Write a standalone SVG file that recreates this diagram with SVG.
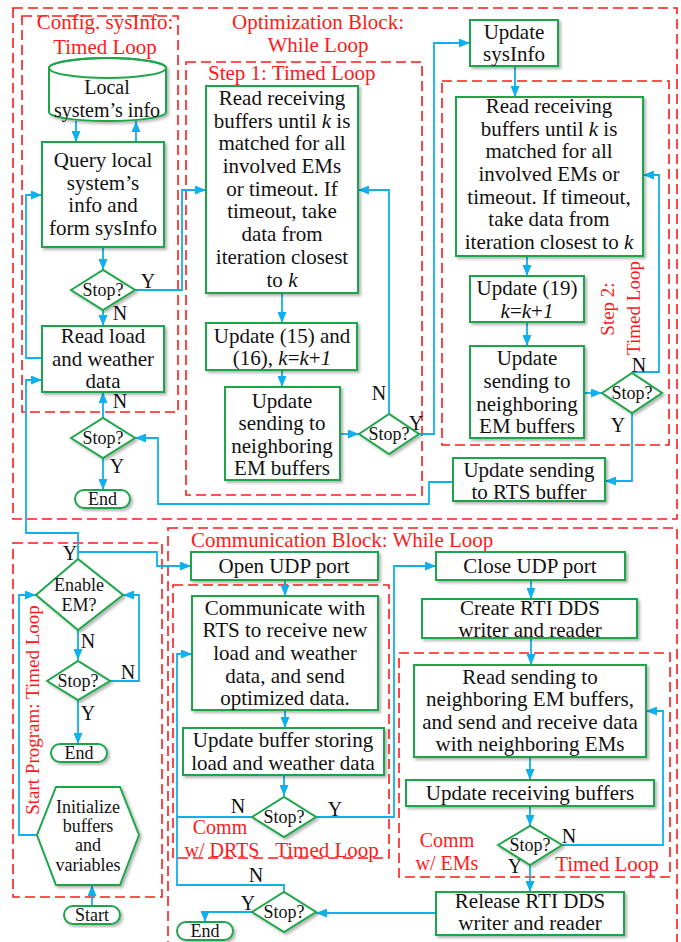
<svg xmlns="http://www.w3.org/2000/svg" width="681" height="942" viewBox="0 0 681 942">
<style>
.bx{fill:#fff;stroke:#1fa64a;stroke-width:2;filter:url(#sh)}
.lp{fill:none;stroke:#ff1a1a;stroke-width:1.6;stroke-dasharray:10 5}
.c{fill:none;stroke:#10b0ee;stroke-width:1.8}
.a{marker-end:url(#ah)}
text{font-family:"Liberation Serif","Times New Roman",serif;fill:#111}
.t{font-size:21px;text-anchor:middle}
.t2{font-size:20px;text-anchor:middle}
.s{font-size:18px;text-anchor:middle}
.yn{font-size:20px;text-anchor:middle}
.r{font-size:21px;fill:#ff1a1a}
.rm{font-size:21px;fill:#ff1a1a;text-anchor:middle}
.rm2{font-size:20px;fill:#ff1a1a;text-anchor:middle}
.rv{font-size:19px;fill:#ff1a1a;text-anchor:middle}
.i{font-style:italic}
</style>
<defs>
<filter id="sh" x="-10%" y="-10%" width="130%" height="130%">
<feDropShadow dx="2" dy="2" stdDeviation="1.5" flood-color="#000" flood-opacity="0.3"/>
</filter>
<marker id="ah" markerUnits="userSpaceOnUse" markerWidth="11" markerHeight="9" refX="11" refY="4.5" orient="auto">
<path d="M0,0 L11,4.5 L0,9 z" fill="#10b0ee"/>
</marker>
</defs>

<g id="loops">
<rect class="lp" x="13" y="8" width="664" height="511"/>
<rect class="lp" x="22" y="16" width="156" height="396"/>
<rect class="lp" x="186" y="62" width="236" height="433"/>
<rect class="lp" x="442" y="81" width="227" height="364"/>
<rect class="lp" x="13" y="543" width="149" height="354"/>
<rect class="lp" x="168" y="528" width="509" height="430"/>
<rect class="lp" x="173" y="585" width="216" height="273"/>
<rect class="lp" x="399" y="653" width="271" height="224"/>
<text class="rm" x="105" y="29">Config. sysInfo:</text>
<text class="rm" x="105" y="54">Timed Loop</text>
<text class="rm" x="318" y="29">Optimization Block:</text>
<text class="rm" x="318" y="52">While Loop</text>
<text class="r" x="208" y="80">Step 1: Timed Loop</text>
<text class="rv" transform="translate(614,309) rotate(-90)">Step 2:</text>
<text class="rv" transform="translate(640,308) rotate(-90)">Timed Loop</text>
<text class="rv" transform="translate(39,710) rotate(-90)">Start Program: Timed Loop</text>
<text class="r" x="191" y="547">Communication Block: While Loop</text>
<text class="rm2" x="220" y="834">Comm</text>
<text class="rm2" x="222" y="857">w/ DRTS</text>
<text class="rm" x="327" y="857">Timed Loop</text>
<text class="rm2" x="447" y="847">Comm</text>
<text class="rm2" x="447" y="870">w/ EMs</text>
<text class="rm" x="607" y="871">Timed Loop</text>
</g>

<g id="connectors">
<path class="c a" d="M76,121 V142"/>
<path class="c a" d="M136,142 V121"/>
<path class="c a" d="M103,247 V270"/>
<path class="c a" d="M103,310 V326"/>
<path class="c a" d="M135,290 H182 V190 H206"/>
<path class="c a" d="M42,358 H26 V195 H42"/>
<path class="c a" d="M103,418 V392"/>
<path class="c a" d="M103,458 V490"/>
<path class="c a" d="M453,482 H429 V504 H158 V438 H135"/>
<path class="c a" d="M282,293 V323"/>
<path class="c a" d="M282,370 V387"/>
<path class="c a" d="M340,434 H359"/>
<path class="c a" d="M389,414 V190 H358"/>
<path class="c a" d="M419,434 H434 V43 H470"/>
<path class="c a" d="M515,66 V97"/>
<path class="c a" d="M527,256 V276"/>
<path class="c a" d="M527,322 V346"/>
<path class="c a" d="M584,393 H602"/>
<path class="c a" d="M632,372 H659 V175 H643"/>
<path class="c a" d="M632,413 V481 H605"/>
<path class="c a" d="M78,559 V533 H26 V380 H42"/>
<path class="c a" d="M78,552 H157 V566 H191"/>
<path class="c a" d="M78,630 V660"/>
<path class="c a" d="M110,681 H139 V595 H123"/>
<path class="c a" d="M78,700 V744"/>
<path class="c a" d="M37,835 H19 V595 H36"/>
<path class="c a" d="M92,906 V885"/>
<path class="c a" d="M285,580 V596"/>
<path class="c a" d="M285,710 V728"/>
<path class="c a" d="M284,775 V796"/>
<path class="c a" d="M252,817 H177 V654 H192"/>
<path class="c a" d="M315,817 H394 V566 H436"/>
<path class="c" d="M284,892 V885 H177 V817"/>
<path class="c a" d="M252,912 H205 V922"/>
<path class="c a" d="M436,913 H316"/>
<path class="c a" d="M531,580 V599"/>
<path class="c a" d="M531,638 V665"/>
<path class="c a" d="M530,757 V780"/>
<path class="c a" d="M530,806 V826"/>
<path class="c a" d="M562,845 H663 V711 H646"/>
<path class="c a" d="M530,865 V892"/>
<text class="yn" x="148" y="288">Y</text>
<text class="yn" x="120" y="320">N</text>
<text class="yn" x="120" y="408">N</text>
<text class="yn" x="117" y="473">Y</text>
<text class="yn" x="379" y="400">N</text>
<text class="yn" x="416" y="430">Y</text>
<text class="yn" x="639" y="372">N</text>
<text class="yn" x="618" y="432">Y</text>
<text class="yn" x="70" y="560">Y</text>
<text class="yn" x="88" y="648">N</text>
<text class="yn" x="128" y="679">N</text>
<text class="yn" x="88" y="720">Y</text>
<text class="yn" x="238" y="813">N</text>
<text class="yn" x="335" y="816">Y</text>
<text class="yn" x="256" y="882">N</text>
<text class="yn" x="248" y="910">Y</text>
<text class="yn" x="569" y="843">N</text>
<text class="yn" x="515" y="873">Y</text>
</g>

<g id="local-info">
<path class="bx" d="M49,68 V112 A58.5,9 0 0 0 166,112 V68 A58.5,10 0 0 0 49,68 Z"/>
<ellipse cx="107.5" cy="68" rx="58.5" ry="10" fill="none" stroke="#1fa64a" stroke-width="2"/>
<text class="t2" x="107" y="94">Local</text>
<text class="t2" x="107" y="117">system’s info</text>
</g>
<g id="query">
<rect class="bx" x="42" y="142" width="122" height="105"/>
<text class="t" x="103" y="167">Query local</text>
<text class="t" x="103" y="190">system’s</text>
<text class="t" x="103" y="212">info and</text>
<text class="t" x="103" y="235">form sysInfo</text>
</g>
<g id="stop1">
<polygon class="bx" points="71,290 103,270 135,290 103,310"/>
<text class="s" x="103" y="296">Stop?</text>
</g>
<g id="read-load">
<rect class="bx" x="42" y="326" width="122" height="66"/>
<text class="t" x="103" y="343">Read load</text>
<text class="t" x="103" y="366">and weather</text>
<text class="t" x="103" y="388">data</text>
</g>
<g id="stop2">
<polygon class="bx" points="71,438 103,418 135,438 103,458"/>
<text class="s" x="103" y="444">Stop?</text>
</g>
<g id="end1">
<rect class="bx" x="75" y="490" width="55" height="18" rx="9"/>
<text class="s" x="102.5" y="505">End</text>
</g>

<g id="read1">
<rect class="bx" x="206" y="86" width="152" height="207"/>
<text class="t" x="282" y="105">Read receiving</text>
<text class="t" x="282" y="128">buffers until <tspan class="i">k</tspan> is</text>
<text class="t" x="282" y="150">matched for all</text>
<text class="t" x="282" y="173">involved EMs</text>
<text class="t" x="282" y="196">or timeout. If</text>
<text class="t" x="282" y="218">timeout, take</text>
<text class="t" x="282" y="241">data from</text>
<text class="t" x="282" y="264">iteration closest</text>
<text class="t" x="282" y="287">to <tspan class="i">k</tspan></text>
</g>
<g id="update15">
<rect class="bx" x="206" y="323" width="151" height="47"/>
<text class="t" x="282" y="343">Update (15) and</text>
<text class="t" x="282" y="365">(16), <tspan class="i">k</tspan>=<tspan class="i">k</tspan>+<tspan class="i">1</tspan></text>
</g>
<g id="send1">
<rect class="bx" x="225" y="387" width="115" height="93"/>
<text class="t" x="282" y="408">Update</text>
<text class="t" x="282" y="430">sending to</text>
<text class="t" x="282" y="453">neighboring</text>
<text class="t" x="282" y="475">EM  buffers</text>
</g>
<g id="stop3">
<polygon class="bx" points="359,434 389,414 419,434 389,454"/>
<text class="s" x="389" y="440">Stop?</text>
</g>

<g id="update-sysinfo">
<rect class="bx" x="470" y="20" width="88" height="46"/>
<text class="t" x="514" y="39">Update</text>
<text class="t" x="514" y="61">sysInfo</text>
</g>
<g id="read2">
<rect class="bx" x="456" y="97" width="187" height="159"/>
<text class="t" x="549" y="113">Read receiving</text>
<text class="t" x="549" y="136">buffers until <tspan class="i">k</tspan> is</text>
<text class="t" x="549" y="158">matched for all</text>
<text class="t" x="549" y="181">involved EMs or</text>
<text class="t" x="549" y="204">timeout. If timeout,</text>
<text class="t" x="549" y="226">take data from</text>
<text class="t" x="549" y="249">iteration closest to <tspan class="i">k</tspan></text>
</g>
<g id="update19">
<rect class="bx" x="470" y="276" width="114" height="46"/>
<text class="t" x="527" y="295">Update (19)</text>
<text class="t" x="527" y="318"><tspan class="i">k</tspan>=<tspan class="i">k</tspan>+<tspan class="i">1</tspan></text>
</g>
<g id="send2">
<rect class="bx" x="470" y="346" width="114" height="92"/>
<text class="t" x="527" y="365">Update</text>
<text class="t" x="527" y="388">sending to</text>
<text class="t" x="527" y="411">neighboring</text>
<text class="t" x="527" y="433">EM  buffers</text>
</g>
<g id="stop4">
<polygon class="bx" points="602,393 632,373 662,393 632,413"/>
<text class="s" x="632" y="399">Stop?</text>
</g>
<g id="rts">
<rect class="bx" x="453" y="458" width="152" height="43"/>
<text class="t" x="529" y="477">Update sending</text>
<text class="t" x="529" y="499">to RTS buffer</text>
</g>

<g id="enable">
<polygon class="bx" points="36,595 78,559 123,595 78,630"/>
<text class="s" x="79" y="591">Enable</text>
<text class="s" x="79" y="611">EM?</text>
</g>
<g id="stop5">
<polygon class="bx" points="47,681 78,661 110,681 78,700"/>
<text class="s" x="78" y="687">Stop?</text>
</g>
<g id="end2">
<rect class="bx" x="51" y="744" width="56" height="18" rx="9"/>
<text class="s" x="79" y="759">End</text>
</g>
<g id="init">
<polygon class="bx" points="56,787 120,787 139,835 120,885 56,885 37,835"/>
<text class="s" x="88" y="813">Initialize</text>
<text class="s" x="88" y="832">buffers</text>
<text class="s" x="88" y="851">and</text>
<text class="s" x="88" y="871">variables</text>
</g>
<g id="start">
<rect class="bx" x="64" y="906" width="56" height="18" rx="9"/>
<text class="s" x="92" y="921">Start</text>
</g>

<g id="open-udp">
<rect class="bx" x="191" y="552" width="187" height="28"/>
<text class="t" x="284" y="573">Open UDP port</text>
</g>
<g id="communicate">
<rect class="bx" x="192" y="596" width="186" height="114"/>
<text class="t" x="285" y="615">Communicate with</text>
<text class="t" x="285" y="637">RTS to receive new</text>
<text class="t" x="285" y="660">load and weather</text>
<text class="t" x="285" y="683">data, and send</text>
<text class="t" x="285" y="705">optimized data.</text>
</g>
<g id="update-buffer">
<rect class="bx" x="183" y="728" width="201" height="47"/>
<text class="t" x="283" y="747">Update buffer storing</text>
<text class="t" x="283" y="770">load and weather data</text>
</g>
<g id="stop6">
<polygon class="bx" points="252,817 284,797 316,817 284,837"/>
<text class="s" x="284" y="823">Stop?</text>
</g>
<g id="stop7">
<polygon class="bx" points="252,912 284,892 316,912 284,932"/>
<text class="s" x="284" y="918">Stop?</text>
</g>
<g id="end3">
<rect class="bx" x="177" y="922" width="56" height="18" rx="9"/>
<text class="s" x="205" y="937">End</text>
</g>

<g id="close-udp">
<rect class="bx" x="436" y="552" width="189" height="28"/>
<text class="t" x="530" y="573">Close UDP port</text>
</g>
<g id="create-dds">
<rect class="bx" x="422" y="599" width="215" height="39"/>
<text class="t" x="530" y="615">Create RTI DDS</text>
<text class="t" x="530" y="637">writer and reader</text>
</g>
<g id="read-sending">
<rect class="bx" x="414" y="665" width="232" height="92"/>
<text class="t" x="530" y="684">Read sending to</text>
<text class="t" x="530" y="706">neighboring EM buffers,</text>
<text class="t" x="530" y="729">and send and receive data</text>
<text class="t" x="530" y="751">with neighboring EMs</text>
</g>
<g id="update-receiving">
<rect class="bx" x="406" y="780" width="248" height="26"/>
<text class="t" x="530" y="800">Update receiving buffers</text>
</g>
<g id="stop8">
<polygon class="bx" points="498,845 530,826 562,845 530,865"/>
<text class="s" x="530" y="851">Stop?</text>
</g>
<g id="release-dds">
<rect class="bx" x="436" y="892" width="188" height="43"/>
<text class="t" x="530" y="908">Release RTI DDS</text>
<text class="t" x="530" y="930">writer and reader</text>
</g>
</svg>
